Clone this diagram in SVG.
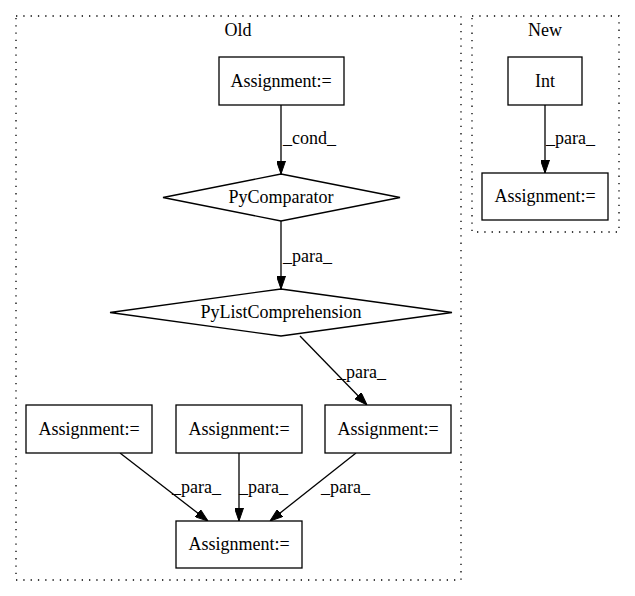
<svg xmlns="http://www.w3.org/2000/svg" width="635" height="596" viewBox="0 0 635 596">
<style>
text{font-family:"Liberation Serif","Times New Roman",serif;font-size:18px;fill:#000}
.n{fill:#fff;stroke:#000;stroke-width:1.3}
.c{fill:none;stroke:#000;stroke-width:1.3;stroke-dasharray:1.3,6}
.e{fill:none;stroke:#000;stroke-width:1.3}
.m{text-anchor:middle}
</style>
<defs>
<marker id="a" viewBox="0 0 13 9" refX="13" refY="4.5" markerWidth="13" markerHeight="9" markerUnits="userSpaceOnUse" orient="auto">
<polygon points="0,0 13,4.5 0,9" fill="#000" stroke="#000"/>
</marker>
</defs>
<rect width="635" height="596" fill="#fff"/>
<g id="cluster_old"><rect class="c" x="16" y="16" width="445" height="564"/><text class="m" x="238" y="36">Old</text></g>
<g id="cluster_new"><rect class="c" x="472" y="16" width="147" height="216"/><text class="m" x="545" y="36">New</text></g>
<g id="edges">
<path class="e" d="M281,105 L281,174" marker-end="url(#a)"/>
<text x="283" y="144">_cond_</text>
<path class="e" d="M281,221 L281,289" marker-end="url(#a)"/>
<text x="283" y="262">_para_</text>
<path class="e" d="M300,336 L367,405" marker-end="url(#a)"/>
<text x="337" y="378">_para_</text>
<path class="e" d="M120,453 L208,521" marker-end="url(#a)"/>
<text x="172" y="493">_para_</text>
<path class="e" d="M239,453 L239,521" marker-end="url(#a)"/>
<text x="239" y="493">_para_</text>
<path class="e" d="M356,453 L270,521" marker-end="url(#a)"/>
<text x="321" y="493">_para_</text>
<path class="e" d="M545,105 L545,173" marker-end="url(#a)"/>
<text x="546" y="144">_para_</text>
</g>
<g id="n1"><rect class="n" x="219" y="57" width="125" height="48"/><text class="m" x="281" y="87">Assignment:=</text></g>
<g id="n2"><polygon class="n" points="281,174 400,197.5 281,221 163,197.5"/><text class="m" x="281" y="203">PyComparator</text></g>
<g id="n3"><polygon class="n" points="281,289 452,312.5 281,336 110,312.5"/><text class="m" x="281" y="318">PyListComprehension</text></g>
<g id="n4"><rect class="n" x="26" y="405" width="126" height="48"/><text class="m" x="89" y="435">Assignment:=</text></g>
<g id="n5"><rect class="n" x="176" y="405" width="126" height="48"/><text class="m" x="239" y="435">Assignment:=</text></g>
<g id="n6"><rect class="n" x="325" y="405" width="126" height="48"/><text class="m" x="388" y="435">Assignment:=</text></g>
<g id="n7"><rect class="n" x="176" y="521" width="126" height="47"/><text class="m" x="239" y="550">Assignment:=</text></g>
<g id="n8"><rect class="n" x="508" y="57" width="74" height="48"/><text class="m" x="545" y="87">Int</text></g>
<g id="n9"><rect class="n" x="482" y="173" width="126" height="47"/><text class="m" x="545" y="202">Assignment:=</text></g>
</svg>
